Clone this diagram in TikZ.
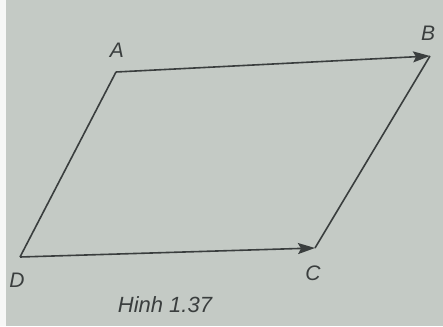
\documentclass[tikz,border=0pt]{standalone}
\usepackage{fontspec}
\setmainfont{Liberation Sans}
\usetikzlibrary{arrows.meta}
\definecolor{paper}{RGB}{196,202,197}
\definecolor{ink}{RGB}{58,62,62}
\begin{document}
\begin{tikzpicture}[x=1pt,y=-1pt,
  edge/.style={draw=ink,line width=1.6pt},
  vec/.style={edge,-{Stealth[length=17pt,width=11pt,inset=3pt]}},
  lbl/.style={text=ink,font=\fontsize{21}{21}\selectfont\itshape,inner sep=0pt}]
\fill[paper] (0,0) rectangle (443,326);
\fill[white!85!paper] (0,0) rectangle (6,326);
\useasboundingbox (0,0) rectangle (443,326);
\coordinate (A) at (116,72);
\coordinate (B) at (430,56);
\coordinate (C) at (315,248);
\coordinate (D) at (20,257);
\draw[edge,line join=round] (B) -- (C);
\draw[edge,line join=round] (A) -- (D);
\draw[vec] (A) -- (B);
\draw[vec] (D) -- (C);
\node[lbl] (la) at (117,50) {A};
\node[lbl] (lb) at (428,33) {B};
\node[lbl] (lc) at (313,273) {C};
\node[lbl] (ld) at (17,280) {D};
\node[lbl,font=\fontsize{22}{22}\selectfont\itshape] (cap) at (165,305) {Hinh 1.37};
\end{tikzpicture}
\end{document}
